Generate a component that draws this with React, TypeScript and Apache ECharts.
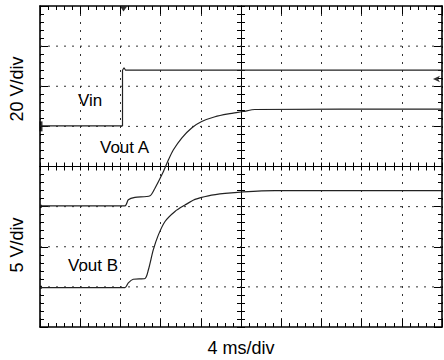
import React, { useEffect, useRef } from "react";
import * as echarts from "echarts";

// time in ms relative to screen centre (4 ms/div, 10 div), level in divisions relative to centre (8 div)
const vinTime = [-20, -11.79, -11.79, -11.64, -11.49, 20];
const vinLevel = [1.01, 1.01, 2.4, 2.46, 2.4, 2.4];

const voutATime = [-20, -11.54, -11.21, -10.55, -9.05, -8.56, -7.73, -7.23, -6.74, -5.9, -4.91, -3.91, -2.59, -1.26, 0.23, 1.39, 20];
const voutALevel = [-0.98, -0.98, -0.83, -0.77, -0.73, -0.54, -0.13, 0.16, 0.41, 0.71, 0.96, 1.12, 1.24, 1.31, 1.37, 1.42, 1.43];

const voutBTime = [-20, -11.54, -11.21, -10.72, -9.55, -9.22, -8.73, -8.23, -7.56, -6.57, -5.57, -4.58, -3.25, -1.59, 0.23, 3.38, 20];
const voutBLevel = [-3.02, -3.02, -2.9, -2.81, -2.79, -2.58, -2.08, -1.71, -1.37, -1.12, -0.96, -0.82, -0.73, -0.67, -0.63, -0.6, -0.6];

const groundMarkerLevels = [1.0, -0.99, -3.01];
const triggerTime = -11.69;
const refArrow = [19.1, 2.18];
const yGridLevels = [-3, -2, -1, 1, 2, 3];

const traceNames = ["Vin", "Vout A", "Vout B"];
const xTitle = "4 ms/div";
const yTitles = ["20 V/div", "5 V/div"];

const zip = (xs: number[], ys: number[]) => xs.map((x, i) => [x, ys[i]]);

export default function App() {
  const ref = useRef<HTMLDivElement>(null);
  useEffect(() => {
    const chart = echarts.init(ref.current!, null, { renderer: "svg" });
    const black = "#000";
    const borderAxis = (pos: string, split: any) => ({
      type: "value",
      position: pos,
      axisLine: { show: true, onZero: false, lineStyle: { color: black, width: 1.6 } },
      axisTick: { show: true, inside: true, length: 8, lineStyle: { color: black, width: 1 } },
      minorTick: { show: true, splitNumber: 5, length: 4, lineStyle: { color: black, width: 1 } },
      axisLabel: { show: false },
      splitLine: split,
    });
    const centreAxis = (pos: string, inside: boolean) => ({
      type: "value",
      position: pos,
      axisLine: { show: true, onZero: true, onZeroAxisIndex: 0, lineStyle: { color: black, width: 1 } },
      axisTick: { show: true, inside, length: 4, lineStyle: { color: black, width: 1 } },
      minorTick: { show: true, splitNumber: 5, length: 4, lineStyle: { color: black, width: 1 } },
      axisLabel: { show: false },
      splitLine: { show: false },
    });
    const xs = [
      borderAxis("bottom", { show: true, lineStyle: { color: "#333", type: [2, 6], width: 1 } }),
      borderAxis("top", { show: false }),
      centreAxis("bottom", true),
      centreAxis("bottom", false),
    ].map((a) => ({ ...a, min: -20, max: 20, interval: 4 }));
    const ys = [
      borderAxis("left", { show: false }),
      borderAxis("right", { show: false }),
      centreAxis("left", true),
      centreAxis("left", false),
    ].map((a) => ({ ...a, min: -4, max: 4, interval: 1 }));
    const mkLine = () => ({ color: "#222", width: 1.2 });
    const font = "'Liberation Sans', Arial, sans-serif";
    chart.setOption({
      animation: false,
      grid: { left: 40, right: 2, top: 6, bottom: 33, show: false },
      xAxis: xs,
      yAxis: ys,
      series: [
        {
          type: "custom",
          silent: true,
          data: yGridLevels,
          renderItem: (params: any, api: any) => {
            const v = api.value(0);
            const p1 = api.coord([-20, v]);
            const p2 = api.coord([20, v]);
            return {
              type: "line",
              shape: { x1: p1[0], y1: p1[1], x2: p2[0], y2: p2[1] },
              style: { stroke: "#333", lineWidth: 1, lineDash: [2, 6] },
            };
          },
        },
        { type: "line", name: traceNames[0], data: zip(vinTime, vinLevel), showSymbol: false, lineStyle: mkLine(), silent: true },
        { type: "line", name: traceNames[1], data: zip(voutATime, voutALevel), showSymbol: false, smooth: 0.25, lineStyle: mkLine(), silent: true },
        { type: "line", name: traceNames[2], data: zip(voutBTime, voutBLevel), showSymbol: false, smooth: 0.25, lineStyle: mkLine(), silent: true },
        {
          type: "scatter",
          clip: false,
          silent: true,
          data: groundMarkerLevels.map((l, i) => ({
            value: [-20, l],
            symbol: "rect",
            symbolSize: i === 0 ? [3, 10] : [2, 3],
          })),
          symbolOffset: [1, 0],
          itemStyle: { color: black },
        },
        {
          type: "scatter",
          clip: false,
          silent: true,
          data: [[triggerTime, 4]],
          symbol: "triangle",
          symbolRotate: 180,
          symbolSize: [7, 5],
          symbolOffset: [0, 3],
          itemStyle: { color: black },
        },
        {
          type: "scatter",
          clip: false,
          silent: true,
          data: [refArrow],
          symbol: "arrow",
          symbolRotate: 90,
          symbolSize: [5, 7],
          itemStyle: { color: black },
        },
      ],
      graphic: [
        { type: "text", left: 78, top: 92, style: { text: traceNames[0], font: `17px ${font}`, fill: "#000" } },
        { type: "text", left: 100, top: 139, style: { text: traceNames[1], font: `17px ${font}`, fill: "#000" } },
        { type: "text", left: 68, top: 257, style: { text: traceNames[2], font: `17px ${font}`, fill: "#000" } },
        {
          type: "text",
          x: 241,
          y: 348,
          style: { text: xTitle, font: `18px ${font}`, fill: "#000", align: "center", verticalAlign: "middle" },
        },
        {
          type: "text",
          x: 17,
          y: 89,
          rotation: Math.PI / 2,
          style: { text: yTitles[0], font: `18px ${font}`, fill: "#000", align: "center", verticalAlign: "middle" },
        },
        {
          type: "text",
          x: 17,
          y: 245,
          rotation: Math.PI / 2,
          style: { text: yTitles[1], font: `18px ${font}`, fill: "#000", align: "center", verticalAlign: "middle" },
        },
      ],
    });
    return () => chart.dispose();
  }, []);
  return <div ref={ref} style={{ position: "absolute", left: 0, top: 0, width: 444, height: 360, background: "#fff" }} />;
}
